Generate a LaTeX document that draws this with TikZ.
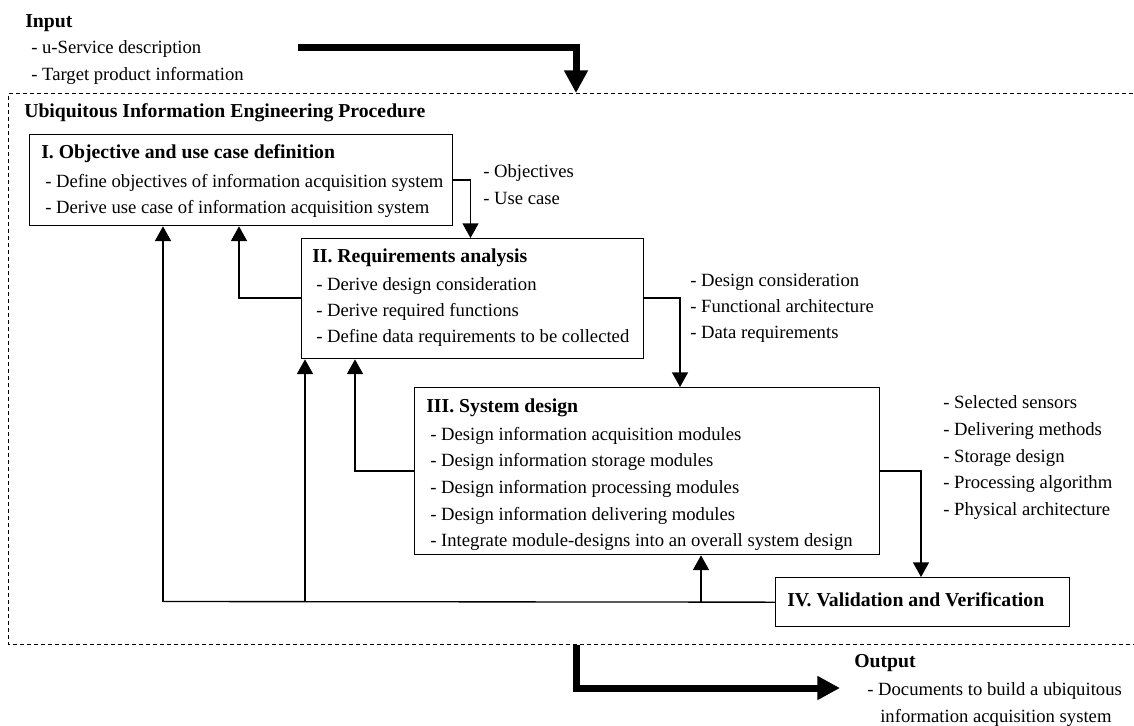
\documentclass[tikz,border=0pt]{standalone}
\usepackage{fontspec}
\setmainfont{Liberation Serif}
\usetikzlibrary{arrows.meta}
\begin{document}
\begin{tikzpicture}[x=0.75pt,y=-0.75pt,
  box/.style={draw, line width=1pt, inner sep=0pt, anchor=north west},
  txt/.style={anchor=mid west, inner sep=0pt, yshift=-2pt, font=\fontsize{14}{16}\selectfont},
  hd/.style={anchor=mid west, inner sep=0pt, yshift=-2pt, font=\fontsize{14.8}{17}\selectfont\bfseries},
  wire/.style={line width=1pt},
  conn/.style={line width=1pt, -{Triangle[width=12pt,length=11pt]}},
  bigarrow/.style={line width=5.25pt, -{Triangle[width=17pt,length=17pt]}},
  frame/.style={line width=0.85pt, dash pattern=on 3pt off 2.25pt}]
\useasboundingbox (0,0) rectangle (1134,725);

% input block
\node[hd]  (inT)  at (25,22)  {Input};
\node[txt] (in1)  at (31,48)  {- u-Service description};
\node[txt] (in2)  at (31,75)  {- Target product information};

% procedure frame (open to the right)
\draw[frame] (1140,93.5) -- (8.5,93.5) -- (8.5,644.5) -- (1140,644.5);
\node[hd] (proc) at (24,112) {Ubiquitous Information Engineering Procedure};

% input arrow
\coordinate (inS) at (298,47.5);
\coordinate (inC) at (576,47.5);
\coordinate (inE) at (576,93);
\draw[bigarrow] (inS) -- (inC) -- (inE);

% step boxes
\node[box, minimum width=423.5*0.75pt, minimum height=91*0.75pt]  (b1) at (28.5,134) {};
\node[box, minimum width=341.5*0.75pt, minimum height=120*0.75pt] (b2) at (301,238) {};
\node[box, minimum width=465*0.75pt,   minimum height=167*0.75pt] (b3) at (414,387) {};
\node[box, minimum width=294*0.75pt,   minimum height=49*0.75pt]  (b4) at (775,577) {};

% step I
\node[hd]  (t1)  at (41,153) {I. Objective and use case definition};
\node[txt] (t1a) at (45,182) {- Define objectives of information acquisition system};
\node[txt] (t1b) at (45,208) {- Derive use case of information acquisition system};

% step II
\node[hd]  (t2)  at (312,257) {II. Requirements analysis};
\node[txt] (t2a) at (316,285) {- Derive design consideration};
\node[txt] (t2b) at (316,311) {- Derive required functions};
\node[txt] (t2c) at (316,337) {- Define data requirements to be collected};

% step III
\node[hd]  (t3)  at (426,407) {III. System design};
\node[txt] (t3a) at (430,435) {- Design information acquisition modules};
\node[txt] (t3b) at (430,461) {- Design information storage modules};
\node[txt] (t3c) at (430,488) {- Design information processing modules};
\node[txt] (t3d) at (430,515) {- Design information delivering modules};
\node[txt] (t3e) at (430,541) {- Integrate module-designs into an overall system design};

% step IV
\node[hd] (t4) at (787,601) {IV. Validation and Verification};

% deliverables between steps
\node[txt] (d1a) at (483,172) {- Objectives};
\node[txt] (d1b) at (483,199) {- Use case};
\node[txt] (d2a) at (690,281) {- Design consideration};
\node[txt] (d2b) at (690,307) {- Functional architecture};
\node[txt] (d2c) at (690,333) {- Data requirements};
\node[txt] (d3a) at (943,403) {- Selected sensors};
\node[txt] (d3b) at (943,430) {- Delivering methods};
\node[txt] (d3c) at (943,457) {- Storage design};
\node[txt] (d3d) at (943,483) {- Processing algorithm};
\node[txt] (d3e) at (943,510) {- Physical architecture};

% forward flow
\coordinate (h1) at (470.5,180);
\coordinate (h2) at (680,298);
\coordinate (h3) at (921,471);
\draw[conn] (b1.east |- h1) -- (h1) -- (h1 |- b2.north);
\draw[conn] (b2.east |- h2) -- (h2) -- (h2 |- b3.north);
\draw[conn] (b3.east |- h3) -- (h3) -- (h3 |- b4.north);

% feedback to the previous step
\coordinate (g1) at (239,298);
\coordinate (g2) at (355,471);
\draw[conn] (b2.west |- g1) -- (g1) -- (g1 |- b1.south);
\draw[conn] (b3.west |- g2) -- (g2) -- (g2 |- b2.south);

% feedback from validation
\coordinate (f1) at (163,601.5);
\coordinate (f2) at (305,601.5);
\coordinate (f3) at (701,601.5);
\draw[wire] (b4.west) -- (f1);
\draw[conn] (f1) -- (f1 |- b1.south);
\draw[conn] (f2) -- (f2 |- b2.south);
\draw[conn] (f3) -- (f3 |- b3.south);

% output
\coordinate (outS) at (576,644.5);
\coordinate (outC) at (576,688);
\coordinate (outE) at (840,688);
\draw[bigarrow] (outS) -- (outC) -- (outE);
\node[hd]  (outT) at (854,662) {Output};
\node[txt] (out1) at (867,690) {- Documents to build a ubiquitous};
\node[txt] (out2) at (880,717) {information acquisition system};
\end{tikzpicture}
\end{document}
